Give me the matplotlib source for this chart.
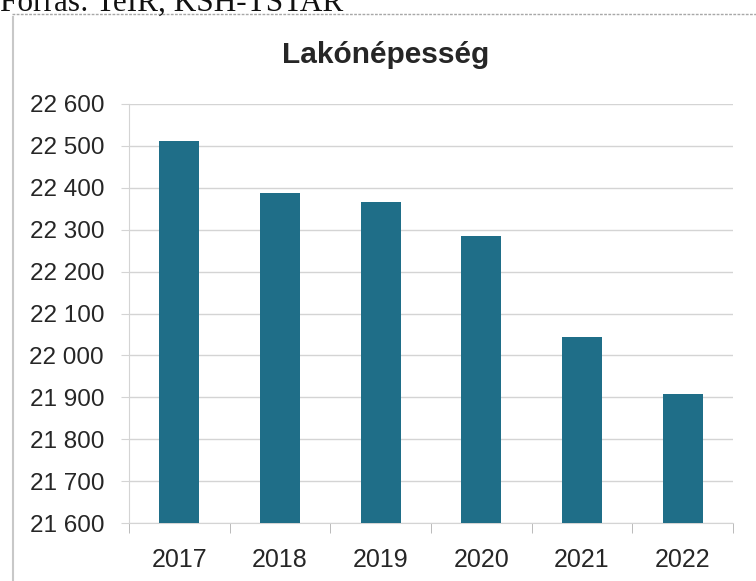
"""Lakónépesség bar chart (2017-2022)."""

import matplotlib

matplotlib.use("Agg")
import matplotlib.pyplot as plt
from matplotlib.lines import Line2D
from matplotlib.ticker import FuncFormatter

YEARS = ["2017", "2018", "2019", "2020", "2021", "2022"]
POPULATION = [22512, 22387, 22365, 22286, 22045, 21908]
Y_TICKS = list(range(21600, 22601, 100))

TITLE = "Lakónépesség"
SOURCE = "Forrás: TeIR, KSH-TSTAR"

BAR_COLOR = "#1f6e88"
GRID_COLOR = "#d4d4d4"
TEXT_COLOR = "#262626"


def _thousands(value, _pos):
    return f"{int(value):,}".replace(",", " ")


def main():
    plt.rcParams["font.family"] = ["Liberation Sans", "DejaVu Sans"]
    fig = plt.figure(figsize=(7.56, 5.81), dpi=100)
    ax = fig.add_axes([129 / 756, 1 - 523 / 581, 604 / 756, 419 / 581])

    positions = range(len(YEARS))
    ax.bar(positions, POPULATION, width=0.4, color=BAR_COLOR, zorder=3)
    ax.set_xlim(-0.5, len(YEARS) - 0.5)
    ax.set_ylim(Y_TICKS[0], Y_TICKS[-1])
    ax.set_yticks(Y_TICKS)
    ax.yaxis.set_major_formatter(FuncFormatter(_thousands))
    ax.set_xticks(list(positions))
    ax.set_xticklabels(YEARS)
    ax.set_xticks([p + 0.5 for p in range(-1, len(YEARS))], minor=True)

    ax.grid(axis="y", color=GRID_COLOR, linewidth=1.0, zorder=0)
    for side in ("top", "right"):
        ax.spines[side].set_visible(False)
    ax.spines["left"].set_color(GRID_COLOR)
    ax.spines["bottom"].set_color(GRID_COLOR)
    ax.tick_params(axis="y", length=6, color=GRID_COLOR, labelsize=17.5, labelcolor=TEXT_COLOR, pad=12)
    ax.tick_params(axis="x", which="major", length=0, labelsize=18, labelcolor=TEXT_COLOR, pad=18)
    ax.tick_params(axis="x", which="minor", length=7, color="#b0b0b0")

    fig.text(386 / 756, 1 - 63 / 581, TITLE, ha="center", va="baseline",
             fontsize=21.5, fontweight="bold", color=TEXT_COLOR)

    # cropped source line at the very top of the scan
    fig.text(0.0, 1 - 11 / 581, SOURCE, ha="left", va="baseline",
             fontsize=22.5, color="#111111", family=["Liberation Serif", "DejaVu Serif"])
    fig.add_artist(Line2D([12 / 756, 1.0], [1 - 14 / 581, 1 - 14 / 581],
                          transform=fig.transFigure, color="#a8a8a8", linewidth=1.0, linestyle=(0, (2, 1))))
    fig.add_artist(Line2D([13 / 756, 13 / 756], [0.0, 1 - 17 / 581],
                          transform=fig.transFigure, color="#c8c8c8", linewidth=1.5))

    fig.savefig("out.png", dpi=100)
    plt.close(fig)


if __name__ == "__main__":
    main()
